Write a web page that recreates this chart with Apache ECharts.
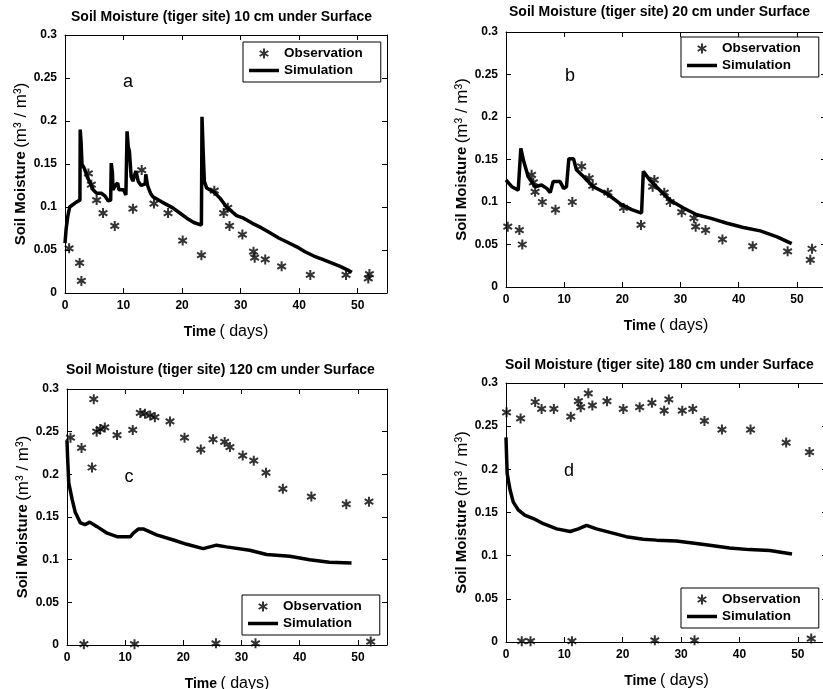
<!DOCTYPE html>
<html><head><meta charset="utf-8">
<script src="https://cdn.jsdelivr.net/npm/echarts@6/dist/echarts.min.js"></script>
<style>html,body{margin:0;padding:0;background:#fff}#c{width:823px;height:689px}</style>
</head><body><div id="c"></div>
<script>
// ---- data ----
const panelTitles = [
  'Soil Moisture (tiger site) 10 cm under Surface',
  'Soil Moisture (tiger site) 20 cm under Surface',
  'Soil Moisture (tiger site) 120 cm under Surface',
  'Soil Moisture (tiger site) 180 cm under Surface'
];
const panelLetters = ['a', 'b', 'c', 'd'];
const xTicks = [0, 10, 20, 30, 40, 50];
const yTicks = [0, 0.05, 0.1, 0.15, 0.2, 0.25, 0.3];
const legendNames = ['Observation', 'Simulation'];

const obsA = [[0.7,0.052],[2.5,0.035],[2.8,0.014],[4.0,0.139],[4.5,0.126],[5.4,0.108],[6.5,0.093],[8.5,0.078],[11.6,0.098],[13.1,0.143],[15.2,0.104],[17.6,0.093],[20.1,0.061],[23.3,0.044],[25.5,0.119],[27.1,0.093],[27.8,0.099],[28.1,0.078],[30.3,0.068],[32.2,0.048],[32.4,0.041],[34.2,0.039],[37.0,0.031],[41.9,0.021],[48.0,0.021],[51.8,0.017],[52.0,0.022]];
const simA = [[0,0.058],[0.2,0.075],[0.5,0.09],[0.8,0.1],[1.2,0.102],[2,0.106],[2.55,0.108],[2.6,0.19],[2.75,0.175],[2.9,0.15],[3.3,0.145],[3.8,0.135],[4.3,0.128],[4.8,0.12],[5.4,0.116],[6.2,0.116],[6.8,0.113],[7.4,0.107],[7.8,0.108],[7.9,0.151],[8.1,0.14],[8.2,0.12],[8.6,0.125],[9,0.128],[9.2,0.12],[10,0.12],[10.4,0.114],[10.6,0.188],[10.8,0.17],[11,0.165],[11.3,0.135],[11.6,0.13],[12.1,0.142],[12.5,0.13],[13,0.125],[13.7,0.127],[13.8,0.138],[14.1,0.125],[14.6,0.116],[15,0.112],[16.5,0.106],[18.4,0.099],[19.6,0.093],[20.8,0.087],[22,0.082],[23.3,0.079],[23.4,0.205],[23.6,0.165],[23.8,0.13],[24.2,0.122],[25.5,0.117],[26.5,0.11],[27.6,0.1],[29.3,0.09],[30.5,0.087],[32,0.081],[33.5,0.076],[35,0.07],[36.5,0.064],[38,0.059],[39.5,0.054],[41,0.048],[42.5,0.043],[44,0.039],[45.5,0.035],[47,0.031],[48.5,0.026],[49,0.024]];

const obsB = [[0.3,0.071],[2.3,0.067],[2.8,0.05],[4.4,0.132],[4.7,0.123],[5.0,0.112],[6.25,0.1],[8.5,0.091],[11.4,0.1],[13.0,0.142],[14.3,0.128],[14.9,0.119],[17.5,0.111],[20.2,0.093],[23.2,0.073],[25.2,0.118],[25.5,0.126],[27.2,0.111],[28.2,0.1],[30.2,0.088],[32.3,0.081],[32.6,0.071],[34.3,0.067],[37.2,0.056],[42.4,0.048],[48.4,0.042],[52.3,0.032],[52.6,0.045]];
const simB = [[0,0.126],[0.5,0.122],[1,0.118],[2.1,0.114],[2.4,0.115],[2.55,0.163],[3,0.149],[3.8,0.13],[5,0.118],[6.1,0.12],[7,0.116],[7.6,0.111],[8.1,0.124],[9.3,0.124],[9.9,0.116],[10.4,0.118],[10.8,0.151],[11.6,0.151],[12.1,0.138],[13.3,0.13],[15,0.118],[17.3,0.11],[19.6,0.098],[21.6,0.091],[23.3,0.087],[23.6,0.136],[24.7,0.126],[27,0.11],[28.2,0.102],[30.5,0.093],[32.8,0.085],[35.1,0.081],[38,0.075],[40.8,0.07],[43.7,0.066],[46.6,0.059],[49.1,0.051]];

const obsC = [[0.6,0.243],[2.5,0.231],[2.9,0.001],[4.3,0.208],[4.6,0.288],[5.1,0.25],[5.7,0.253],[6.5,0.255],[8.6,0.246],[11.3,0.252],[11.6,0.001],[12.6,0.272],[13.4,0.271],[14.3,0.269],[15.1,0.267],[17.7,0.262],[20.2,0.243],[23.0,0.229],[25.1,0.241],[25.6,0.002],[27.1,0.238],[28.0,0.232],[30.2,0.222],[32.1,0.216],[32.4,0.002],[34.2,0.202],[37.1,0.183],[42.0,0.174],[48.0,0.165],[51.9,0.168],[52.2,0.004]];
const simC = [[0,0.24],[0.1,0.22],[0.3,0.19],[0.9,0.17],[1.4,0.156],[2.3,0.143],[3.1,0.141],[3.9,0.144],[5.1,0.139],[6.9,0.131],[8.6,0.127],[10.9,0.127],[11.4,0.131],[12.3,0.136],[13.1,0.136],[15.4,0.129],[18.3,0.123],[20.6,0.118],[23.4,0.113],[25.7,0.117],[27.4,0.115],[31.4,0.111],[34.3,0.106],[38.3,0.104],[41.7,0.1],[45.1,0.097],[48.9,0.096]];

const obsD = [[0.1,0.266],[2.5,0.259],[2.7,0.001],[4.2,0.001],[5.0,0.278],[6.1,0.27],[8.2,0.27],[11.1,0.261],[11.3,0.001],[12.4,0.279],[12.8,0.272],[14.1,0.288],[14.8,0.274],[17.3,0.279],[20.1,0.27],[22.9,0.272],[25.0,0.277],[25.5,0.002],[27.1,0.268],[27.9,0.281],[30.2,0.268],[32.0,0.27],[32.3,0.002],[34.0,0.256],[37.0,0.246],[41.9,0.246],[48.0,0.231],[52.0,0.22],[52.3,0.004]];
const simD = [[0,0.237],[0.1,0.215],[0.2,0.195],[0.7,0.176],[1.25,0.162],[2.1,0.153],[3.2,0.147],[4.7,0.143],[6.4,0.137],[8.7,0.131],[11,0.128],[12.4,0.131],[13.8,0.135],[15.5,0.131],[17.8,0.127],[20.6,0.122],[23.5,0.119],[25.8,0.118],[29.2,0.117],[32.6,0.114],[34.9,0.112],[38.3,0.109],[41.7,0.107],[45.2,0.106],[49,0.102]];

const observations = [obsA, obsB, obsC, obsD];
const simulations = [simA, simB, simC, simD];

// ---- layout ----
const grids = [
  {left: 65, top: 35, width: 322, height: 258},
  {left: 506, top: 32, width: 320, height: 255},
  {left: 67, top: 389, width: 320, height: 256},
  {left: 506, top: 383, width: 321, height: 259}
];
const titlePos = [[71, 10], [509, 5], [66, 363], [505, 358]];
const legendPos = [[243, 42], [681, 37], [242, 595], [681, 588]];
const letterPos = [[128, 82], [570, 76], [129, 477], [569, 471]];

const FONT = 'Arial, "Liberation Sans", sans-serif';
const STAR = 'path://M5,0L5,10M0.67,2.5L9.33,7.5M0.67,7.5L9.33,2.5';
const LINEICON = 'path://M0,0H30V3.5H0Z';

const option = {
  backgroundColor: '#fff',
  animation: false,
  title: [], grid: [], xAxis: [], yAxis: [], series: [], legend: [], graphic: []
};

const xmin = xTicks[0], ymin = yTicks[0];
const xstep = xTicks[1] - xTicks[0], ystep = yTicks[1] - yTicks[0];
const ymax = yTicks[yTicks.length - 1];

for (let i = 0; i < 4; i++) {
  option.grid.push(Object.assign({containLabel: false, outerBoundsMode: 'none'}, grids[i]));
  option.title.push({
    text: panelTitles[i], left: titlePos[i][0], top: titlePos[i][1], padding: 0,
    textStyle: {fontFamily: FONT, fontSize: 14, fontWeight: 'bold', color: '#000'}
  });
  const axisCommon = {
    gridIndex: i, type: 'value',
    axisLine: {show: true, onZero: false, lineStyle: {color: '#000', width: 1}},
    axisTick: {show: true, inside: true, length: 5, lineStyle: {color: '#000'}},
    splitLine: {show: false}
  };
  option.xAxis.push(Object.assign({}, axisCommon, {
    position: 'bottom', min: xmin, max: 55, interval: xstep,
    axisLabel: {show: true, color: '#000', fontFamily: FONT, fontSize: 12, fontWeight: 'bold', margin: 7,
      formatter: v => (xTicks.indexOf(v) >= 0 ? String(v) : '')},
    name: '{b|Time} {n|( days)}', nameLocation: 'middle', nameGap: 31,
    nameTextStyle: {color: '#000', rich: {
      b: {fontFamily: FONT, fontSize: 14, fontWeight: 'bold', color: '#000'},
      n: {fontFamily: FONT, fontSize: 16, color: '#000'}}}
  }));
  option.xAxis.push(Object.assign({}, axisCommon, {
    position: 'top', min: xmin, max: 55, interval: xstep, axisLabel: {show: false}
  }));
  option.yAxis.push(Object.assign({}, axisCommon, {
    position: 'left', min: ymin, max: ymax, interval: ystep,
    axisLabel: {show: true, color: '#000', fontFamily: FONT, fontSize: 12, fontWeight: 'bold', margin: 8,
      formatter: v => String(+v.toFixed(2))},
    name: '{b|Soil Moisture} {n|(m³ / m³)}', nameLocation: 'middle', nameGap: 30, nameRotate: 90,
    nameTextStyle: {color: '#000', rich: {
      b: {fontFamily: FONT, fontSize: 15, fontWeight: 'bold', color: '#000'},
      n: {fontFamily: FONT, fontSize: 17, color: '#000'}}}
  }));
  option.yAxis.push(Object.assign({}, axisCommon, {
    position: 'right', min: ymin, max: ymax, interval: ystep, axisLabel: {show: false}
  }));

  option.series.push({
    name: legendNames[0], type: 'scatter', xAxisIndex: 2 * i, yAxisIndex: 2 * i,
    data: observations[i], symbol: STAR, symbolSize: 10, symbolKeepAspect: true,
    itemStyle: {color: '#000', borderColor: '#000', borderWidth: 2}, z: 3
  });
  option.series.push({
    name: legendNames[1], type: 'line', xAxisIndex: 2 * i, yAxisIndex: 2 * i,
    data: simulations[i], symbol: 'none', showSymbol: false,
    lineStyle: {color: '#000', width: 3.5}, itemStyle: {color: '#000'}, z: 2
  });

  option.legend.push({
    data: [{name: legendNames[0]}, {name: legendNames[1], icon: LINEICON, itemStyle: {color: '#000', borderWidth: 0}}],
    orient: 'vertical',
    left: legendPos[i][0], top: legendPos[i][1],
    itemWidth: 30, itemHeight: 10, itemGap: 2, padding: [4, 18, 4, 6],
    borderColor: '#000', borderWidth: 1, backgroundColor: '#fff',
    selectedMode: false,
    textStyle: {fontFamily: FONT, fontSize: 13.5, fontWeight: 'bold', color: '#000', lineHeight: 15}
  });

  option.graphic.push({
    type: 'text', x: letterPos[i][0], y: letterPos[i][1],
    style: {text: panelLetters[i], fill: '#000', font: '18px ' + FONT, textAlign: 'center', textVerticalAlign: 'middle'}
  });
}

const chart = echarts.init(document.getElementById('c'), null, {renderer: 'canvas'});
chart.setOption(option);
</script>
</body></html>
